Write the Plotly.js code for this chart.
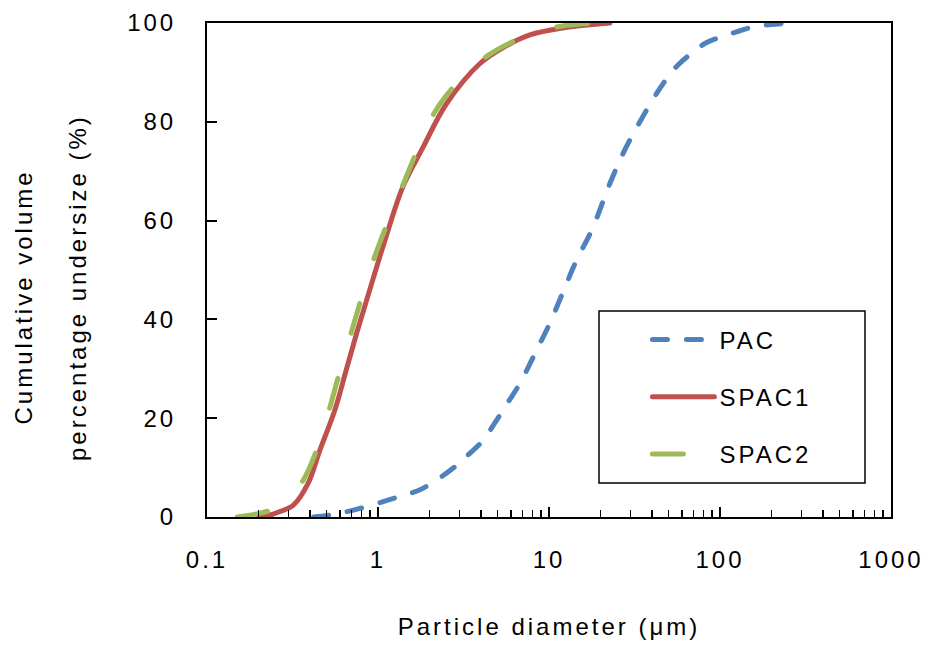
<!DOCTYPE html>
<html>
<head>
<meta charset="utf-8">
<script src="https://cdn.plot.ly/plotly-3.0.1.min.js"></script>
<style>
  html, body { margin: 0; padding: 0; background: #fff; }
  #chart { width: 929px; height: 648px; }
  #chart svg text { letter-spacing: 3px; }
</style>
</head>
<body>
<div id="chart"></div>
<script>
// PAC
var pacX = [0.42, 0.52, 0.7, 1.0, 1.35, 1.76, 2.36, 2.89, 3.37, 4.04, 4.9, 5.78, 6.77, 8.28, 10.1, 12.1, 14.5, 17.8, 22.7, 27.2, 34, 42.7, 49.9, 56.8, 68.3, 82, 102, 125, 160, 200, 257];
var pacY = [0, 0.4, 1.3, 2.8, 4.2, 5.5, 8.2, 10.5, 12.6, 15.2, 19.4, 23.3, 27.1, 33.1, 39.2, 45.6, 52, 58.1, 67.5, 73.7, 80, 85.8, 89.2, 91.5, 93.9, 95.9, 97.2, 98.2, 99.3, 99.7, 100];
// SPAC1
var spac1X = [0.2, 0.235, 0.267, 0.32, 0.39, 0.458, 0.56, 0.65, 0.75, 0.86, 0.97, 1.1, 1.4, 1.8, 2.52, 3.95, 5.5, 7.74, 12, 18, 22.7];
var spac1Y = [0, 0.4, 1.1, 2.4, 6.8, 13.6, 21.7, 29.6, 37.2, 44, 50, 56.1, 66.9, 74.3, 83.7, 91.8, 95.2, 97.6, 99, 99.7, 100];
// SPAC2
var spac2X = [0.15, 0.2, 0.243, 0.3, 0.366, 0.438, 0.524, 0.594, 0.70, 0.80, 0.93, 1.1, 1.41, 1.68, 2.15, 2.82, 3.5, 4.42, 6.47, 9, 12, 19];
var spac2Y = [0, 0.7, 1.6, 3.8, 7.5, 13.6, 22.3, 29.1, 37.5, 44.3, 51.5, 58.3, 67.5, 73.9, 82, 87.4, 90.6, 93.5, 96.6, 98.4, 99.4, 100];

var seriesNames = ['PAC', 'SPAC1', 'SPAC2'];
var yTickVals = [0, 20, 40, 60, 80, 100];

var FONT = 'Arial, "Liberation Sans", sans-serif';

var traces = [
  {x: pacX, y: pacY, name: seriesNames[0], legendgroup: 'g1', mode: 'lines',
   line: {color: '#4F81BD', width: 5, dash: '15px,19px', shape: 'spline', smoothing: 1}},
  {x: spac1X, y: spac1Y, name: seriesNames[1], legendgroup: 'g2', mode: 'lines',
   line: {color: '#C0504D', width: 5, shape: 'spline', smoothing: 1}},
  {x: spac2X, y: spac2Y, name: seriesNames[2], legendgroup: 'g3', mode: 'lines',
   line: {color: '#9BBB59', width: 5, dash: '31px,47px', shape: 'spline', smoothing: 1}}
];

var layout = {
  width: 929, height: 648,
  margin: {l: 207, r: 38, t: 23, b: 131, pad: 0},
  paper_bgcolor: '#fff', plot_bgcolor: '#fff',
  font: {family: FONT, size: 24, color: '#000'},
  showlegend: true,
  xaxis: {
    type: 'log', range: [-1, 3], dtick: 1, exponentformat: 'none',
    showgrid: false, zeroline: false,
    showline: true, linecolor: '#000', linewidth: 2, mirror: true,
    ticks: 'inside', ticklen: 10, tickwidth: 2, tickcolor: '#000',
    minor: {ticks: 'inside', ticklen: 7, tickwidth: 1.5, tickcolor: '#000', dtick: 'D1', showgrid: false},
    ticklabelstandoff: 20,
    tickfont: {family: FONT, size: 24, color: '#000'},
    title: {text: 'Particle diameter (μm)', font: {family: FONT, size: 24, color: '#000'}, standoff: 46},
    automargin: false, fixedrange: true
  },
  yaxis: {
    range: [0, 100], tickvals: yTickVals,
    showgrid: false, zeroline: false,
    showline: true, linecolor: '#000', linewidth: 2, mirror: true,
    ticks: 'inside', ticklen: 10, tickwidth: 2, tickcolor: '#000',
    ticklabelstandoff: 24,
    tickfont: {family: FONT, size: 24, color: '#000'},
    automargin: false, fixedrange: true
  },
  legend: {
    x: 0.6439, y: 0.404, xanchor: 'left', yanchor: 'top',
    bgcolor: 'rgba(0,0,0,0)', borderwidth: 0,
    font: {family: FONT, size: 24, color: '#000'},
    tracegroupgap: 23, itemwidth: 62
  },
  shapes: [
    {type: 'rect', xref: 'paper', yref: 'paper',
     x0: (599 - 207) / 684, x1: (865 - 207) / 684,
     y0: (517 - 483) / 494, y1: (517 - 311) / 494,
     line: {color: '#000', width: 1.5}, fillcolor: 'rgba(0,0,0,0)', layer: 'below'}
  ],
  annotations: [
    {text: 'Cumulative volume', xref: 'paper', yref: 'paper',
     x: (23 - 207) / 684, y: (517 - 297) / 494, xanchor: 'center', yanchor: 'middle',
     textangle: -90, showarrow: false, font: {family: FONT, size: 24, color: '#000'}},
    {text: 'percentage undersize (%)', xref: 'paper', yref: 'paper',
     x: (77 - 207) / 684, y: (517 - 288) / 494, xanchor: 'center', yanchor: 'middle',
     textangle: -90, showarrow: false, font: {family: FONT, size: 24, color: '#000'}}
  ]
};

Plotly.newPlot('chart', traces, layout, {staticPlot: true, displayModeBar: false}).then(function () {
  document.querySelectorAll('#chart .js-line').forEach(function (p) {
    p.style.strokeLinecap = 'round';
  });
  document.querySelectorAll('#chart .legend .scrollbox, #chart .legend').forEach(function (g) {
    g.removeAttribute('clip-path');
  });
});
</script>
</body>
</html>
